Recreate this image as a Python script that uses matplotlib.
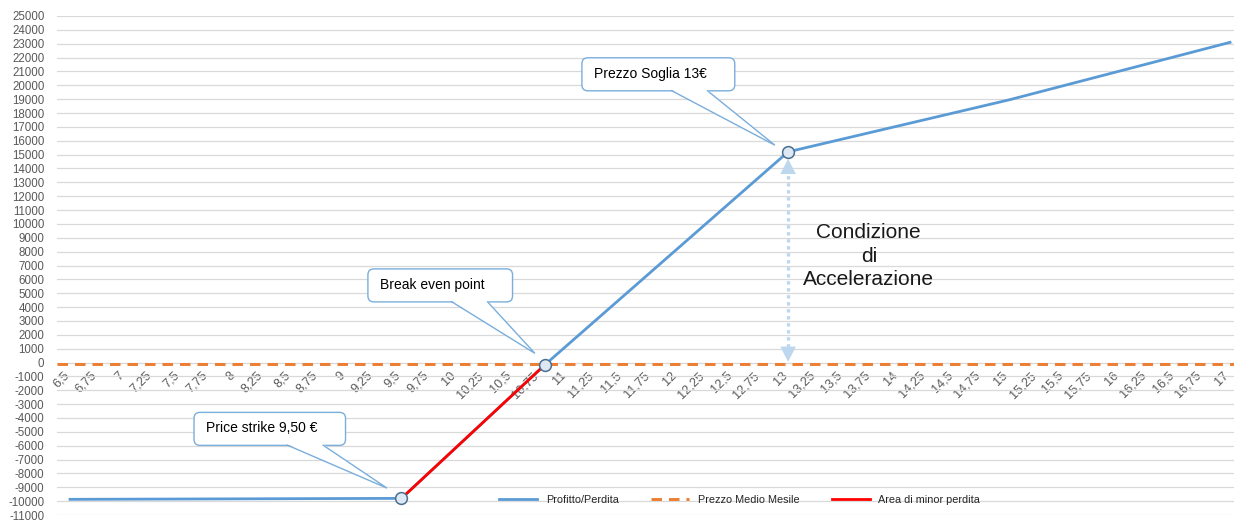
"""
Profitto/Perdita — payoff chart with strike, break even and threshold callouts.

Run: python3 plot.py
"""

import matplotlib
matplotlib.use("Agg")
import matplotlib.pyplot as plt
import numpy as np
from matplotlib.patches import FancyBboxPatch, Polygon
from matplotlib.transforms import IdentityTransform, ScaledTranslation

plt.rcParams["font.family"] = ["Liberation Sans", "DejaVu Sans"]

# ── Data ───────────────────────────────────────────────────────────────────────
PRICE = [6.5, 9.5, 10.8, 13.0, 15.0, 17.0]
PROFIT = [-9870, -9800, -150, 15200, 18950, 23100]

RED_PRICE = [9.5, 10.8]
RED_PROFIT = [-9800, -150]

MEDIO = -100  # Prezzo Medio Mesile

KEY_PRICE = [9.5, 10.8, 13.0]
KEY_PROFIT = [-9800, -150, 15200]

X_TICKS = np.arange(6.5, 17.01, 0.25)
X_LABELS = [f"{v:g}".replace(".", ",") for v in X_TICKS]
Y_TICKS = np.arange(-11000, 25001, 1000)

# ── Colours ────────────────────────────────────────────────────────────────────
BLUE = "#5b9bd5"
ORANGE = "#ed7d31"
RED = "#ff0000"
EDGE = "#7aaedc"
ARROW = "#bdd7ee"
GREY = "#595959"

# ── Figure ─────────────────────────────────────────────────────────────────────
fig = plt.figure(figsize=(12.34, 5.22), dpi=100)
ax = fig.add_axes([57 / 1234, 7 / 522, 1177 / 1234, 499 / 522])
ax.set_xlim(6.382, 17.036)
ax.set_ylim(-11000, 25000)

ln_profit, = ax.plot(PRICE, PROFIT, color=BLUE, lw=2, zorder=3,
                     label="Profitto/Perdita")
ln_medio = ax.axhline(MEDIO, color=ORANGE, lw=2.1, dashes=(3.6, 2.4), zorder=3,
                      label="Prezzo Medio Mesile")
ln_red, = ax.plot(RED_PRICE, RED_PROFIT, color=RED, lw=2, zorder=4,
                  label="Area di minor perdita")
ax.plot(KEY_PRICE, KEY_PROFIT, ls="none", marker="o", ms=8.5,
        mfc="#dce8f4", mec="#4a6f90", mew=1.1, zorder=9)

# ── Axes styling ───────────────────────────────────────────────────────────────
for side in ["left", "right", "top", "bottom"]:
    ax.spines[side].set_visible(False)
ax.spines["bottom"].set_position(("data", 0))

ax.set_yticks(Y_TICKS)
ax.set_yticklabels([str(v) for v in Y_TICKS])
ax.set_xticks(X_TICKS)
ax.set_xticklabels(X_LABELS, rotation=45, ha="right", va="top",
                   rotation_mode="anchor")
ax.tick_params(axis="y", length=0, pad=9, labelsize=8.3, labelcolor=GREY)
ax.tick_params(axis="x", length=0, pad=5, labelsize=9.2, labelcolor=GREY)
shift = ScaledTranslation(-5 / 72, 0, fig.dpi_scale_trans)
for lbl in ax.get_xticklabels():
    lbl.set_transform(lbl.get_transform() + shift)
ax.yaxis.grid(True, color="#d9d9d9", lw=0.9)
ax.xaxis.grid(False)
ax.set_axisbelow(True)

# ── Callouts (box + wedge pointer) ─────────────────────────────────────────────
CALLOUTS = []

def callout(text, tip, start, relx):
    t = ax.text(*start, text, fontsize=10, ha="left", va="center", zorder=8)
    CALLOUTS.append((t, tip, relx))

callout("Price strike 9,50 €", (9.369, -9060), (7.731, -4750), 0.73)
callout("Break even point", (10.708, 660), (9.305, 5600), 0.70)
callout("Prezzo Soglia 13€", (12.88, 15680), (11.242, 20830), 0.70)

fig.canvas.draw()
renderer = fig.canvas.get_renderer()
ident = IdentityTransform()
for t, tip, relx in CALLOUTS:
    bb = t.get_window_extent(renderer)
    x0, x1 = bb.x0 - 12, bb.x1 + 28
    y0, y1 = bb.y0 - 10, bb.y1 + 9
    ax.add_patch(FancyBboxPatch((x0, y0), x1 - x0, y1 - y0,
                                boxstyle="round,pad=0,rounding_size=6",
                                fc="white", ec=EDGE, lw=1,
                                transform=ident, zorder=6))
    tx, ty = ax.transData.transform(tip)
    bc = x0 + relx * (x1 - x0)
    ax.add_patch(Polygon([(bc - 18, y0 + 1.5), (bc + 18, y0 + 1.5), (tx, ty)],
                         closed=True, fc="white", ec="none",
                         transform=ident, zorder=7))
    ax.add_patch(Polygon([(bc - 18, y0 + 0.5), (tx, ty), (bc + 18, y0 + 0.5)],
                         closed=False, fill=False, ec=EDGE, lw=1,
                         transform=ident, zorder=7))

# ── Accelerazione arrow (dotted shaft, solid heads) ────────────────────────────
ARROW_TOP, ARROW_BOTTOM = 14700, 50
ax.plot([13.0, 13.0], [ARROW_BOTTOM + 600, ARROW_TOP - 600], color=ARROW,
        lw=2.4, ls=(0, (1, 1.1)), zorder=2)
for head, tail in [(ARROW_TOP, ARROW_TOP - 1500), (ARROW_BOTTOM, ARROW_BOTTOM + 1500)]:
    ax.annotate("", xy=(13.0, head), xytext=(13.0, tail),
                arrowprops=dict(arrowstyle="-|>,head_length=0.55,head_width=0.28",
                                fc=ARROW, ec=ARROW, lw=0, mutation_scale=20,
                                shrinkA=0, shrinkB=0), zorder=2)
ax.text(13.73, 7680, "Condizione\ndi\nAccelerazione", fontsize=15,
        ha="center", va="center", linespacing=1.3, color="#1a1a1a")

# ── Legend ─────────────────────────────────────────────────────────────────────
ax.legend(handles=[ln_profit, ln_medio, ln_red], loc="center",
          bbox_to_anchor=(0.58, 0.03), ncol=3, frameon=False, fontsize=7.8,
          handlelength=3.5, columnspacing=3.0, handletextpad=0.8,
          labelcolor="#262626")

fig.savefig("out.png", dpi=100)
